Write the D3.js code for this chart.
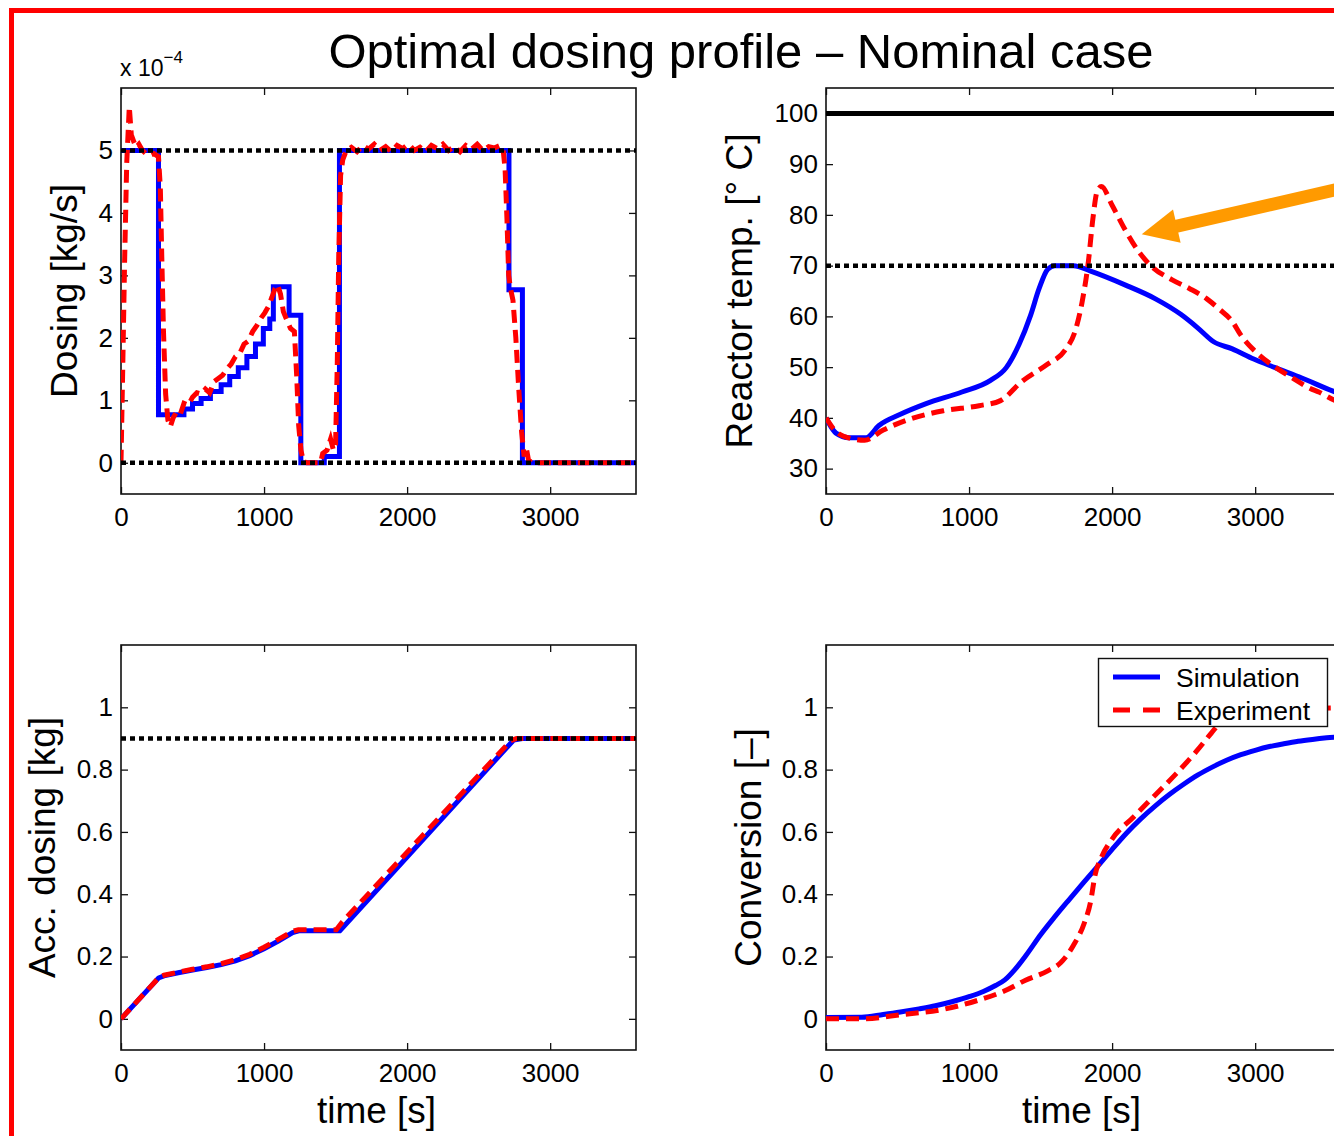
<!DOCTYPE html>
<html>
<head>
<meta charset="utf-8">
<script src="https://cdn.jsdelivr.net/npm/d3@7"></script>
<style>
  html, body { margin: 0; padding: 0; background: #fff; }
  svg { display: block; font-family: "Liberation Sans", Arial, Helvetica, sans-serif; }
</style>
</head>
<body>
<svg id="fig" width="1334" height="1136"></svg>
<script>
// ---- shared time axis ----
const timeDomain = [0, 3600];
const timeTicks = [0, 1000, 2000, 3000];

// ---- dosing rate, in units of 1e-4 kg/s ----
const doseTicks = [0, 1, 2, 3, 4, 5];
const doseMax = 5;            // upper dosing bound
const doseMin = 0;            // lower dosing bound
// simulation: piecewise-constant profile [t, value from t on]
const doseSim = [
  [0, 5], [262, 0.77], [440, 0.86], [500, 0.95], [560, 1.03], [625, 1.14],
  [700, 1.25], [760, 1.38], [820, 1.52], [880, 1.7], [940, 1.9], [995, 2.15],
  [1040, 2.3], [1065, 2.82], [1175, 2.36], [1257, 0], [1421, 0.1], [1527, 5],
  [2712, 2.77], [2806, 0], [3600, 0]
];
// measured dosing
const doseExp = [
  [0, 0], [12, 1.5], [25, 3.2], [40, 4.8], [58, 5.7], [72, 5.25], [88, 5.15],
  [105, 5.05], [125, 5.1], [150, 5.0], [175, 4.95], [200, 4.92], [230, 4.95],
  [262, 4.9], [275, 4.4], [285, 3.3], [297, 2.1], [312, 1.1], [328, 0.68],
  [345, 0.58], [365, 0.72], [390, 0.82], [415, 0.78], [440, 0.95], [470, 0.92],
  [500, 1.05], [530, 1.12], [560, 1.1], [590, 1.18], [620, 1.12], [650, 1.3],
  [680, 1.35], [710, 1.4], [740, 1.5], [770, 1.58], [800, 1.7], [830, 1.75],
  [860, 1.9], [890, 1.95], [920, 2.1], [950, 2.2], [980, 2.32], [1005, 2.4],
  [1030, 2.5], [1055, 2.65], [1075, 2.78], [1095, 2.85], [1115, 2.7],
  [1135, 2.42], [1160, 2.28], [1185, 2.15], [1212, 2.1], [1228, 1.4],
  [1242, 0.6], [1258, 0.2], [1275, 0.02], [1300, 0], [1395, 0], [1410, 0.15],
  [1440, 0.2], [1465, 0.38], [1485, 0.2], [1500, 0.3], [1512, 1.6],
  [1522, 3.3], [1535, 4.6], [1550, 4.85], [1575, 5.0], [1610, 5.05],
  [1650, 4.98], [1690, 5.08], [1730, 5.02], [1770, 5.1], [1810, 5.0],
  [1850, 5.06], [1890, 4.98], [1930, 5.08], [1970, 5.03], [2010, 5.1],
  [2050, 5.0], [2090, 5.05], [2130, 4.98], [2170, 5.08], [2210, 5.03],
  [2250, 5.1], [2290, 5.0], [2330, 5.06], [2370, 4.98], [2410, 5.08],
  [2450, 5.02], [2490, 5.1], [2530, 5.0], [2570, 5.06], [2610, 5.04],
  [2650, 5.08], [2672, 5.0], [2685, 4.7], [2698, 3.9], [2710, 3.0],
  [2722, 2.8], [2740, 2.6], [2760, 2.0], [2780, 1.2], [2800, 0.5],
  [2818, 0.1], [2832, 0.25], [2848, 0.05], [2870, 0], [3600, 0]
];

// ---- reactor temperature [°C] ----
const tempTicks = [30, 40, 50, 60, 70, 80, 90, 100];
const tempMax = 70;           // temperature constraint
const tempBoil = 100;         // boiling limit
const tempSim = [
  [0, 40], [70, 37], [160, 36.1], [280, 36.1], [370, 38.5], [520, 40.7],
  [700, 42.8], [950, 45.1], [1150, 47.4], [1260, 49.9], [1350, 54.5],
  [1430, 60.2], [1490, 65.5], [1550, 69.3], [1600, 70], [1730, 70],
  [1850, 68.9], [2090, 66.2], [2300, 63.5], [2480, 60.4], [2600, 57.7],
  [2710, 55], [2840, 53.6], [2990, 51.6], [3140, 49.9], [3330, 47.8],
  [3560, 45.1], [3600, 44.7]
];
const tempExp = [
  [0, 40], [70, 37.3], [180, 35.9], [270, 35.6], [400, 37.6], [580, 39.7],
  [820, 41.4], [1070, 42.4], [1220, 43.4], [1370, 47.2], [1550, 50.6],
  [1670, 53.3], [1745, 57.4], [1790, 62.8], [1835, 71], [1865, 79.1],
  [1895, 84.6], [1925, 85.6], [2000, 81.9], [2090, 77.1], [2180, 73],
  [2270, 70], [2420, 67.2], [2540, 65.5], [2660, 63.5], [2750, 61.4],
  [2840, 59], [2900, 56.3], [3020, 52.6], [3145, 49.9], [3265, 47.8],
  [3385, 45.8], [3445, 45.1], [3560, 43.4], [3600, 43]
];
// arrow pointing at the temperature overshoot [t, °C]
const arrowFrom = [3650, 85.5];
const arrowTo = [2207, 76.2];

// ---- accumulated dosing [kg] ----
const fracTicks = [0, 0.2, 0.4, 0.6, 0.8, 1];
const accTotal = 0.9;         // total amount to be dosed
const accSim = [
  [0, 0], [262, 0.131], [300, 0.138], [400, 0.148], [500, 0.157],
  [600, 0.165], [700, 0.174], [800, 0.186], [900, 0.203], [1000, 0.225],
  [1100, 0.25], [1200, 0.277], [1250, 0.283], [1530, 0.283],
  [2745, 0.895], [2806, 0.9], [3600, 0.9]
];
const accExp = [
  [0, 0], [270, 0.135], [300, 0.14], [400, 0.15], [500, 0.159],
  [600, 0.167], [700, 0.177], [800, 0.19], [900, 0.207], [1000, 0.23],
  [1100, 0.255], [1200, 0.281], [1240, 0.286], [1505, 0.286],
  [1545, 0.31], [2725, 0.893], [2765, 0.9], [3600, 0.9]
];

// ---- conversion [-] ----
const convSim = [
  [0, 0.004], [250, 0.005], [400, 0.014], [520, 0.022], [650, 0.032],
  [765, 0.042], [880, 0.055], [1005, 0.072], [1100, 0.088], [1185, 0.107],
  [1250, 0.125], [1320, 0.158], [1400, 0.205], [1500, 0.27], [1600, 0.328],
  [1700, 0.383], [1800, 0.437], [1900, 0.49], [2000, 0.544], [2100, 0.596],
  [2200, 0.642], [2300, 0.683], [2400, 0.72], [2500, 0.753], [2600, 0.783],
  [2700, 0.808], [2800, 0.83], [2900, 0.848], [3000, 0.862], [3100, 0.874],
  [3200, 0.883], [3300, 0.891], [3400, 0.897], [3500, 0.902], [3600, 0.906]
];
const convExp = [
  [0, 0], [250, 0], [520, 0.013], [825, 0.031], [1065, 0.06], [1250, 0.09],
  [1395, 0.124], [1550, 0.154], [1640, 0.18], [1730, 0.236], [1805, 0.307],
  [1850, 0.377], [1880, 0.46], [1925, 0.518], [2000, 0.577], [2150, 0.648],
  [2300, 0.718], [2450, 0.788], [2590, 0.859], [2695, 0.918], [2760, 0.953],
  [2850, 0.975], [3000, 0.988], [3300, 0.995], [3600, 0.998]
];

const seriesNames = ["Simulation", "Experiment"];

// ---- styling ----
const BLUE = "#0000ff", RED = "#ff0000", ORANGE = "#ff9a00";
const LW = 5;
const DASH = "13,7";
const DOT = "5,4";
const TICK_FONT = 26, LABEL_FONT = 37;
const W = 515;

const svg = d3.select("#fig");
svg.append("rect").attr("width", 1334).attr("height", 1136).attr("fill", "#fff");

// outer frame
svg.append("rect")
  .attr("x", 11.5).attr("y", 10.5).attr("width", 1400).attr("height", 1200)
  .attr("fill", "none").attr("stroke", RED).attr("stroke-width", 5);

svg.append("text")
  .attr("x", 741).attr("y", 68)
  .attr("text-anchor", "middle")
  .attr("font-size", 49)
  .text("Optimal dosing profile \u2013 Nominal case");

function makePanel(cfg) {
  const H = cfg.bottom - cfg.top;
  const x = d3.scaleLinear().domain(timeDomain).range([cfg.left, cfg.left + W]);
  const y = d3.scaleLinear().domain(cfg.yDomain).range([cfg.bottom, cfg.top]);
  const g = svg.append("g");

  const clipId = "clip-" + cfg.name;
  svg.append("clipPath").attr("id", clipId)
    .append("rect").attr("x", cfg.left).attr("y", cfg.top)
    .attr("width", W).attr("height", H);

  const styleAxis = sel => {
    sel.select(".domain").remove();
    sel.selectAll(".tick line").attr("stroke", "#111").attr("stroke-width", 1.3);
    sel.selectAll(".tick text").attr("font-size", TICK_FONT)
      .attr("font-family", "Liberation Sans, Arial, sans-serif").attr("fill", "#000");
    sel.attr("font-family", null).attr("font-size", null);
  };

  g.append("g").attr("transform", `translate(0,${cfg.bottom})`)
    .call(d3.axisBottom(x).tickValues(timeTicks).tickSize(-7).tickSizeOuter(0)
      .tickPadding(14).tickFormat(d3.format("d")))
    .call(styleAxis);
  g.append("g").attr("transform", `translate(0,${cfg.top})`)
    .call(d3.axisTop(x).tickValues(timeTicks).tickSize(-7).tickSizeOuter(0).tickFormat(""))
    .call(styleAxis);
  g.append("g").attr("transform", `translate(${cfg.left},0)`)
    .call(d3.axisLeft(y).tickValues(cfg.yTicks).tickSize(-7).tickSizeOuter(0)
      .tickPadding(8).tickFormat(d => String(d)))
    .call(styleAxis);
  g.append("g").attr("transform", `translate(${cfg.left + W},0)`)
    .call(d3.axisRight(y).tickValues(cfg.yTicks).tickSize(-7).tickSizeOuter(0).tickFormat(""))
    .call(styleAxis);

  g.append("rect")
    .attr("x", cfg.left).attr("y", cfg.top).attr("width", W).attr("height", H)
    .attr("fill", "none").attr("stroke", "#111").attr("stroke-width", 1.6);

  const plot = g.append("g").attr("clip-path", `url(#${clipId})`);

  const line = curve => d3.line().x(d => x(d[0])).y(d => y(d[1])).curve(curve);

  plot.append("path").datum(cfg.sim)
    .attr("d", line(cfg.simCurve))
    .attr("fill", "none").attr("stroke", BLUE).attr("stroke-width", LW)
    .attr("stroke-linejoin", "miter");
  plot.append("path").datum(cfg.exp)
    .attr("d", line(cfg.expCurve))
    .attr("fill", "none").attr("stroke", RED).attr("stroke-width", LW)
    .attr("stroke-dasharray", DASH);

  (cfg.solidRefs || []).forEach(v => {
    plot.append("path").datum(timeDomain.map(t => [t, v]))
      .attr("d", line(d3.curveLinear))
      .attr("stroke", "#000").attr("stroke-width", 5);
  });
  (cfg.dottedRefs || []).forEach(v => {
    plot.append("path").datum(timeDomain.map(t => [t, v]))
      .attr("d", line(d3.curveLinear))
      .attr("stroke", "#000").attr("stroke-width", 4.5)
      .attr("stroke-dasharray", DOT);
  });

  // y label
  svg.append("text")
    .attr("transform", `translate(${cfg.left - cfg.yLabelOffset},${(cfg.top + cfg.bottom) / 2}) rotate(-90)`)
    .attr("text-anchor", "middle").attr("font-size", LABEL_FONT)
    .text(cfg.yLabel);
  if (cfg.xLabel) {
    svg.append("text")
      .attr("x", cfg.left + W / 2 - 2).attr("y", cfg.bottom + 73)
      .attr("text-anchor", "middle").attr("font-size", LABEL_FONT)
      .text(cfg.xLabel);
  }
  return { x, y, g };
}

const pDose = makePanel({
  name: "dose", left: 121, top: 88, bottom: 494, yDomain: [-0.5, 6],
  yTicks: doseTicks, sim: doseSim, exp: doseExp,
  simCurve: d3.curveStepAfter, expCurve: d3.curveLinear,
  dottedRefs: [doseMax, doseMin], yLabel: "Dosing [kg/s]", yLabelOffset: 44
});
const pTemp = makePanel({
  name: "temp", left: 826, top: 88, bottom: 494, yDomain: [25, 105],
  yTicks: tempTicks, sim: tempSim, exp: tempExp,
  simCurve: d3.curveMonotoneX, expCurve: d3.curveMonotoneX,
  solidRefs: [tempBoil], dottedRefs: [tempMax],
  yLabel: "Reactor temp. [\u00B0 C]", yLabelOffset: 74
});
makePanel({
  name: "acc", left: 121, top: 645, bottom: 1050, yDomain: [-0.1, 1.2],
  yTicks: fracTicks, sim: accSim, exp: accExp,
  simCurve: d3.curveLinear, expCurve: d3.curveLinear,
  dottedRefs: [accTotal], yLabel: "Acc. dosing [kg]", yLabelOffset: 66,
  xLabel: "time [s]"
});
makePanel({
  name: "conv", left: 826, top: 645, bottom: 1050, yDomain: [-0.1, 1.2],
  yTicks: fracTicks, sim: convSim, exp: convExp,
  simCurve: d3.curveMonotoneX, expCurve: d3.curveMonotoneX,
  yLabel: "Conversion [\u2013]", yLabelOffset: 65,
  xLabel: "time [s]"
});

// exponent note for the dosing axis
const expo = svg.append("text").attr("x", 120).attr("y", 76).attr("font-size", 23);
expo.append("tspan").text("x 10");
expo.append("tspan").attr("dy", -13).attr("font-size", 17).text("\u22124");

// orange arrow on the temperature overshoot
{
  const x = pTemp.x, y = pTemp.y;
  const p0 = [x(arrowFrom[0]), y(arrowFrom[1])];
  const p1 = [x(arrowTo[0]), y(arrowTo[1])];
  const dx = p1[0] - p0[0], dy = p1[1] - p0[1];
  const len = Math.hypot(dx, dy);
  const ux = dx / len, uy = dy / len;
  const headLen = 36, headHalf = 17;
  const base = [p1[0] - ux * headLen, p1[1] - uy * headLen];
  svg.append("line")
    .attr("x1", p0[0]).attr("y1", p0[1])
    .attr("x2", base[0] + ux * 2).attr("y2", base[1] + uy * 2)
    .attr("stroke", ORANGE).attr("stroke-width", 13);
  svg.append("path")
    .attr("d", `M${p1[0]},${p1[1]}L${base[0] - uy * headHalf},${base[1] + ux * headHalf}L${base[0] + uy * headHalf},${base[1] - ux * headHalf}Z`)
    .attr("fill", ORANGE);
}

// legend
{
  const lg = svg.append("g");
  lg.append("rect").attr("x", 1098.5).attr("y", 658.5).attr("width", 229).attr("height", 68)
    .attr("fill", "#fff").attr("stroke", "#111").attr("stroke-width", 1.4);
  const rows = [
    { name: seriesNames[0], color: BLUE, dash: null, y: 677 },
    { name: seriesNames[1], color: RED, dash: "17,13", y: 710 }
  ];
  rows.forEach(r => {
    lg.append("line").attr("x1", 1113).attr("x2", 1160).attr("y1", r.y).attr("y2", r.y)
      .attr("stroke", r.color).attr("stroke-width", LW)
      .attr("stroke-dasharray", r.dash);
    lg.append("text").attr("x", 1176).attr("y", r.y + 9.5)
      .attr("font-size", 26.5).text(r.name);
  });
}
</script>
</body>
</html>
